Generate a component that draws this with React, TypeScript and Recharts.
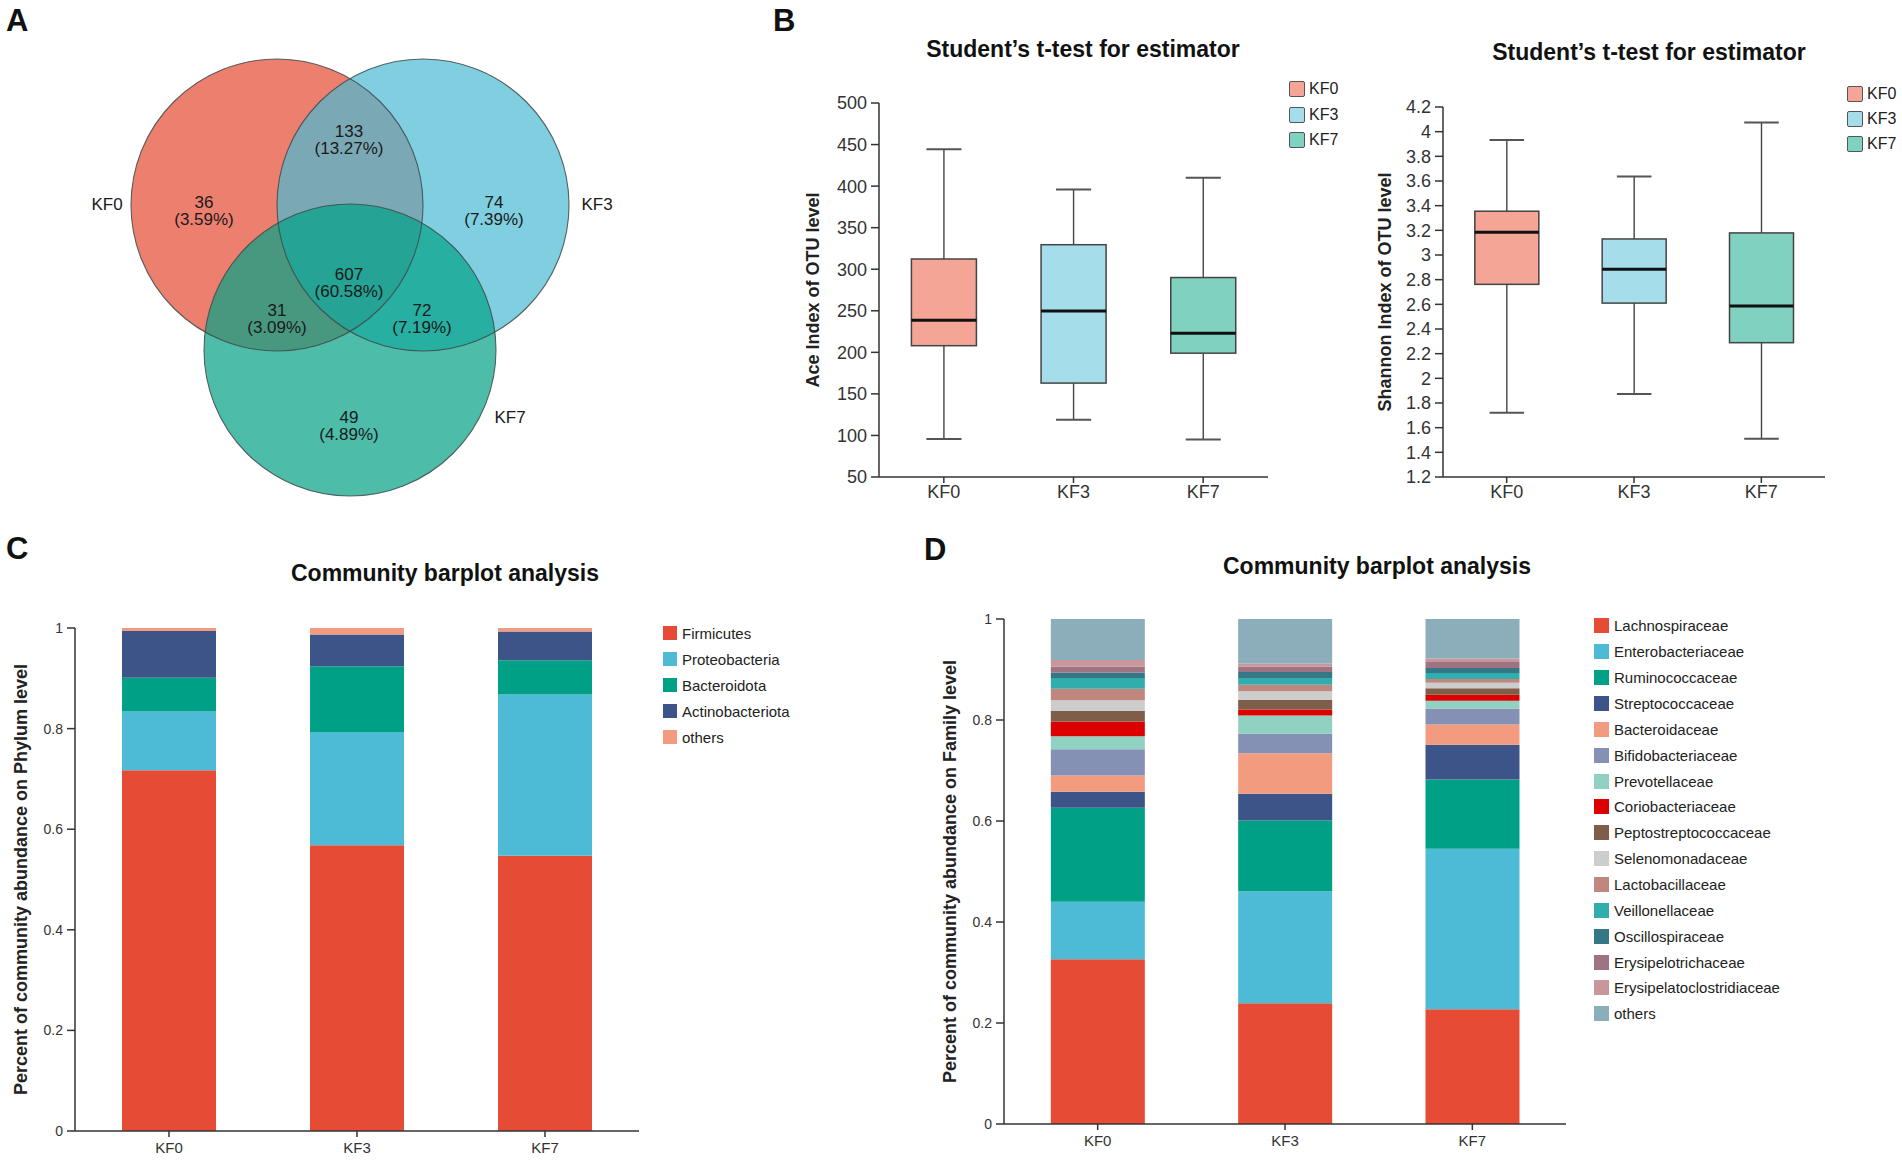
import React from "react";
import {
  ScatterChart, Scatter, ComposedChart, BarChart, Bar, XAxis, YAxis, Legend, Label,
} from "recharts";

const FONT = '"Liberation Sans", Arial, Helvetica, sans-serif';

const groups = ["KF0", "KF3", "KF7"];

// ---- A: Venn ----
const vennSets = ["KF0", "KF3", "KF7"];
const vennCounts = [36, 74, 49, 133, 31, 72, 607]; // KF0, KF3, KF7, 0&3, 0&7, 3&7, all
const vennPercents = [3.59, 7.39, 4.89, 13.27, 3.09, 7.19, 60.58];

// ---- B: alpha diversity boxes ----
const aceMin = [95.7, 119, 95];
const aceQ1 = [208, 163, 199];
const aceMedian = [238.5, 249.7, 223];
const aceQ3 = [312.3, 329.5, 290];
const aceMax = [444.5, 396, 410];
const aceTicks = [50, 100, 150, 200, 250, 300, 350, 400, 450, 500];

const shannonMin = [1.72, 1.872, 1.51];
const shannonQ1 = [2.762, 2.61, 2.289];
const shannonMedian = [3.184, 2.885, 2.586];
const shannonQ3 = [3.355, 3.13, 3.179];
const shannonMax = [3.932, 3.636, 4.075];
const shannonTicks = [1.2, 1.4, 1.6, 1.8, 2, 2.2, 2.4, 2.6, 2.8, 3, 3.2, 3.4, 3.6, 3.8, 4, 4.2];

// ---- C: phylum ----
const phylumSeries = ["Firmicutes", "Proteobacteria", "Bacteroidota", "Actinobacteriota", "others"];
const firmicutes = [0.717, 0.568, 0.547];
const proteobacteria = [0.117, 0.225, 0.321];
const bacteroidota = [0.067, 0.131, 0.068];
const actinobacteriota = [0.093, 0.063, 0.057];
const phylumOthers = [0.006, 0.013, 0.007];

// ---- D: family ----
const familySeries = [
  "Lachnospiraceae", "Enterobacteriaceae", "Ruminococcaceae", "Streptococcaceae",
  "Bacteroidaceae", "Bifidobacteriaceae", "Prevotellaceae", "Coriobacteriaceae",
  "Peptostreptococcaceae", "Selenomonadaceae", "Lactobacillaceae", "Veillonellaceae",
  "Oscillospiraceae", "Erysipelotrichaceae", "Erysipelatoclostridiaceae", "others",
];
const lachnospiraceae = [0.326, 0.239, 0.227];
const enterobacteriaceae = [0.114, 0.222, 0.318];
const ruminococcaceae = [0.186, 0.14, 0.137];
const streptococcaceae = [0.032, 0.053, 0.069];
const bacteroidaceae = [0.032, 0.08, 0.04];
const bifidobacteriaceae = [0.052, 0.039, 0.032];
const prevotellaceae = [0.026, 0.036, 0.015];
const coriobacteriaceae = [0.029, 0.012, 0.012];
const peptostreptococcaceae = [0.021, 0.019, 0.013];
const selenomonadaceae = [0.021, 0.017, 0.011];
const lactobacillaceae = [0.023, 0.013, 0.007];
const veillonellaceae = [0.021, 0.013, 0.012];
const oscillospiraceae = [0.011, 0.012, 0.01];
const erysipelotrichaceae = [0.012, 0.011, 0.012];
const erysipelatoclostridiaceae = [0.013, 0.006, 0.007];
const familyOthers = [0.081, 0.088, 0.078];

const fractionTicks = [0, 0.2, 0.4, 0.6, 0.8, 1];

// colours
const vennFills = ["#ED7F6F", "#48BAD3", "#01A186"];
const vennOpacity = [1, 0.7, 0.7];
const boxFills = ["#F4A596", "#A6DDEA", "#80D1BF"];
const phylumColors = ["#E64B35", "#4DBBD5", "#00A087", "#3C5488", "#F39B7F"];
const familyColors = [
  "#E64B35", "#4DBBD5", "#00A087", "#3C5488", "#F39B7F", "#8491B4", "#91D1C2", "#DC0000",
  "#7E5E48", "#CDCDCD", "#BF877E", "#31ADAD", "#357687", "#9E7382", "#C8969B", "#8CAEBA",
];

// venn layout (chart units = px)
const VENN_R = 146;
const vennCx = [277, 423, 350];
const vennCy = [205, 205, 350];
const vennRegionX = [204, 494, 349, 349, 277, 422, 349];
const vennRegionY = [211, 211, 426, 140, 319, 319, 283];
const vennNameX = [107, 597, 510];
const vennNameY = [204, 204, 417];

const circleData = vennSets.map((name, i) => ({ name, x: vennCx[i], y: vennCy[i], i }));
const regionData = vennCounts.map((c, i) => ({
  x: vennRegionX[i], y: vennRegionY[i], count: c, pct: vennPercents[i],
}));
const nameData = vennSets.map((name, i) => ({ name, x: vennNameX[i], y: vennNameY[i] }));

const phylumValues = [firmicutes, proteobacteria, bacteroidota, actinobacteriota, phylumOthers];
const phylumData = groups.map((name, i) => {
  const row: Record<string, number | string> = { name };
  phylumSeries.forEach((s, k) => { row[s] = phylumValues[k][i]; });
  return row;
});

const familyValues = [
  lachnospiraceae, enterobacteriaceae, ruminococcaceae, streptococcaceae, bacteroidaceae,
  bifidobacteriaceae, prevotellaceae, coriobacteriaceae, peptostreptococcaceae, selenomonadaceae,
  lactobacillaceae, veillonellaceae, oscillospiraceae, erysipelotrichaceae,
  erysipelatoclostridiaceae, familyOthers,
];
const familyData = groups.map((name, i) => {
  const row: Record<string, number | string> = { name };
  familySeries.forEach((s, k) => { row[s] = familyValues[k][i]; });
  return row;
});

const axisLine = { stroke: "#333", strokeWidth: 1.5 };

function SwatchLegend({ names, colors, row, size, fontSize, gap, outlined }: any) {
  return (
    <div style={{ fontFamily: FONT }}>
      {names.map((n: string, i: number) => (
        <div key={n} style={{ display: "flex", alignItems: "center", height: row }}>
          <span
            style={{
              display: "inline-block", width: size, height: size, background: colors[i],
              boxSizing: "border-box", marginRight: gap,
              border: outlined ? "1.3px solid #555" : "none",
              borderRadius: outlined ? 2 : 0,
            }}
          />
          <span style={{ fontSize, color: "#222", whiteSpace: "nowrap" }}>{n}</span>
        </div>
      ))}
    </div>
  );
}

const renderBox = (props: any) => {
  const { x, y, width, height, payload } = props;
  const top = Math.min(y, y + height);
  const h = Math.abs(height);
  const span = payload.max - payload.min;
  const py = (v: number) => top + ((payload.max - v) / span) * h;
  const cx = x + width / 2;
  const cap = width * 0.27;
  const fill = boxFills[groups.indexOf(payload.name)];
  return (
    <g>
      <line x1={cx} x2={cx} y1={py(payload.max)} y2={py(payload.q3)} stroke="#444" strokeWidth={1.4} />
      <line x1={cx} x2={cx} y1={py(payload.q1)} y2={py(payload.min)} stroke="#444" strokeWidth={1.4} />
      <line x1={cx - cap} x2={cx + cap} y1={py(payload.max)} y2={py(payload.max)} stroke="#555" strokeWidth={2} />
      <line x1={cx - cap} x2={cx + cap} y1={py(payload.min)} y2={py(payload.min)} stroke="#555" strokeWidth={2} />
      <rect x={x} y={py(payload.q3)} width={width} height={py(payload.q1) - py(payload.q3)}
        fill={fill} stroke="#444" strokeWidth={1.5} />
      <line x1={x} x2={x + width} y1={py(payload.median)} y2={py(payload.median)} stroke="#111" strokeWidth={3} />
    </g>
  );
};

function BoxChart({ mins, q1s, medians, q3s, maxs, domain, ticks, yLabel, box, margin, yWidth, legend }: any) {
  const data = groups.map((name, i) => ({
    name, min: mins[i], q1: q1s[i], median: medians[i], q3: q3s[i], max: maxs[i],
    range: [mins[i], maxs[i]],
  }));
  return (
    <div style={{ position: "absolute", left: box.left, top: box.top }}>
      <ComposedChart width={box.width} height={box.height} data={data} margin={margin} barCategoryGap="25%">
        <XAxis dataKey="name" height={30} interval={0} tickSize={6} tickMargin={2}
          tick={{ fill: "#333", fontSize: 18, fontFamily: FONT }} axisLine={axisLine} tickLine={axisLine} />
        <XAxis xAxisId="top" orientation="top" dataKey="name" height={0} tick={false} tickLine={false} axisLine={axisLine} />
        <YAxis type="number" domain={domain} ticks={ticks} interval={0} width={yWidth} tickSize={8} tickMargin={4}
          allowDataOverflow tick={{ fill: "#333", fontSize: 18, fontFamily: FONT }} axisLine={axisLine} tickLine={axisLine}>
          <Label value={yLabel} angle={-90} position="insideLeft" offset={0}
            style={{ textAnchor: "middle", fontWeight: 700, fontSize: 18, fill: "#222", fontFamily: FONT }} />
        </YAxis>
        <YAxis yAxisId="right" orientation="right" type="number" domain={domain} width={0}
          tick={false} tickLine={false} axisLine={axisLine} />
        <Bar dataKey="range" shape={renderBox} isAnimationActive={false} />
        <Legend layout="vertical" align="center" verticalAlign="middle"
          wrapperStyle={{ left: legend.left, top: legend.top, width: "auto", height: "auto" }}
          content={() => (
            <SwatchLegend names={groups} colors={boxFills} row={legend.row} size={16} fontSize={16} gap={4} outlined />
          )} />
      </ComposedChart>
    </div>
  );
}

function StackChart({ data, series, colors, box, margin, yLabel, labelOffset, legend }: any) {
  return (
    <div style={{ position: "absolute", left: box.left, top: box.top }}>
      <BarChart width={box.width} height={box.height} data={data} margin={margin} barCategoryGap="25%">
        <XAxis dataKey="name" height={28} interval={0} tickSize={6} tickMargin={5}
          tick={{ fill: "#333", fontSize: 15, fontFamily: FONT }} axisLine={axisLine} tickLine={axisLine} />
        <YAxis type="number" domain={[0, 1]} ticks={fractionTicks} interval={0} width={55} tickSize={8} tickMargin={4}
          tickFormatter={(v: number) => String(v)}
          tick={{ fill: "#333", fontSize: 14, fontFamily: FONT }} axisLine={axisLine} tickLine={axisLine}>
          <Label value={yLabel} angle={-90} position="insideLeft" offset={labelOffset}
            style={{ textAnchor: "middle", fontWeight: 700, fontSize: 18, fill: "#222", fontFamily: FONT }} />
        </YAxis>
        {series.map((s: string, k: number) => (
          <Bar key={s} dataKey={s} stackId="a" fill={colors[k]} isAnimationActive={false} />
        ))}
        <Legend layout="vertical" align="center" verticalAlign="middle"
          wrapperStyle={{ left: legend.left, top: legend.top, width: "auto", height: "auto" }}
          content={() => (
            <SwatchLegend names={series} colors={colors} row={legend.row} size={legend.size} fontSize={15} gap={5} />
          )} />
      </BarChart>
    </div>
  );
}

const titleStyle = (cx: number, top: number): React.CSSProperties => ({
  position: "absolute", left: cx - 250, width: 500, top, textAlign: "center",
  fontFamily: FONT, fontWeight: 700, fontSize: 23, lineHeight: "23px", color: "#111",
});
const panelStyle = (left: number, top: number): React.CSSProperties => ({
  position: "absolute", left, top, fontFamily: FONT, fontWeight: 700, fontSize: 31,
  lineHeight: "31px", color: "#111",
});

export default function App() {
  return (
    <div style={{ position: "absolute", left: 0, top: 0, width: 1902, height: 1161, background: "#fff", overflow: "hidden" }}>
      <div style={panelStyle(6, 5)}>A</div>
      <div style={panelStyle(773, 5)}>B</div>
      <div style={panelStyle(6, 533)}>C</div>
      <div style={panelStyle(924, 534)}>D</div>

      <div style={{ position: "absolute", left: 0, top: 0 }}>
        <ScatterChart width={640} height={520} margin={{ top: 0, right: 0, bottom: 0, left: 0 }}>
          <XAxis type="number" dataKey="x" domain={[0, 640]} hide />
          <YAxis type="number" dataKey="y" domain={[0, 520]} reversed hide />
          <Scatter data={circleData} isAnimationActive={false}
            shape={(p: any) => (
              <circle cx={p.cx} cy={p.cy} r={VENN_R} fill={vennFills[p.payload.i]} fillOpacity={vennOpacity[p.payload.i]} />
            )} />
          <Scatter data={circleData} isAnimationActive={false}
            shape={(p: any) => (
              <circle cx={p.cx} cy={p.cy} r={VENN_R} fill="none" stroke="#3f4a4a" strokeOpacity={0.85} strokeWidth={1.1} />
            )} />
          <Scatter data={regionData} isAnimationActive={false}
            shape={(p: any) => (
              <g fontFamily={FONT} fontSize={17} fill="#1a1a1a" textAnchor="middle">
                <text x={p.cx} y={p.cy - 8.5} dominantBaseline="central">{p.payload.count}</text>
                <text x={p.cx} y={p.cy + 8.5} dominantBaseline="central">({p.payload.pct.toFixed(2)}%)</text>
              </g>
            )} />
          <Scatter data={nameData} isAnimationActive={false}
            shape={(p: any) => (
              <text x={p.cx} y={p.cy} dominantBaseline="central" textAnchor="middle" fontFamily={FONT} fontSize={17} fill="#1a1a1a">
                {p.payload.name}
              </text>
            )} />
        </ScatterChart>
      </div>

      <div style={titleStyle(1083, 38)}>Student’s t-test for estimator</div>
      <div style={titleStyle(1649, 41)}>Student’s t-test for estimator</div>

      <BoxChart mins={aceMin} q1s={aceQ1} medians={aceMedian} q3s={aceQ3} maxs={aceMax}
        domain={[50, 500]} ticks={aceTicks} yLabel="Ace Index of OTU level"
        box={{ left: 790, top: 20, width: 560, height: 500 }}
        margin={{ top: 83, right: 82, bottom: 13, left: 23 }} yWidth={66}
        legend={{ left: 499, top: 56, row: 25.8 }} />
      <BoxChart mins={shannonMin} q1s={shannonQ1} medians={shannonMedian} q3s={shannonQ3} maxs={shannonMax}
        domain={[1.2, 4.2]} ticks={shannonTicks} yLabel="Shannon Index of OTU level"
        box={{ left: 1340, top: 20, width: 562, height: 500 }}
        margin={{ top: 87, right: 77, bottom: 13, left: 45 }} yWidth={58}
        legend={{ left: 507, top: 61, row: 25 }} />

      <div style={titleStyle(445, 562)}>Community barplot analysis</div>
      <div style={titleStyle(1377, 555)}>Community barplot analysis</div>

      <StackChart data={phylumData} series={phylumSeries} colors={phylumColors}
        box={{ left: 0, top: 540, width: 920, height: 620 }}
        margin={{ top: 88, right: 281, bottom: 1, left: 20 }}
        yLabel="Percent of community abundance on Phylum level" labelOffset={1}
        legend={{ left: 663, top: 80, row: 26.05, size: 14 }} />
      <StackChart data={familyData} series={familySeries} colors={familyColors}
        box={{ left: 920, top: 540, width: 982, height: 620 }}
        margin={{ top: 79, right: 336, bottom: 8, left: 29 }}
        yLabel="Percent of community abundance on Family level" labelOffset={1}
        legend={{ left: 674, top: 73, row: 25.86, size: 15 }} />
    </div>
  );
}
